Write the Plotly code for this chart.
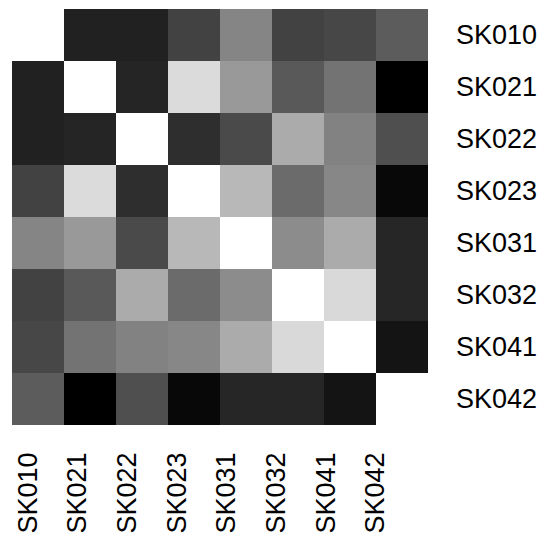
import plotly.graph_objects as go

labels = ["SK010", "SK021", "SK022", "SK023", "SK031", "SK032", "SK041", "SK042"]

# correlation-like values (0 = black, 1 = white); None = blank cell
row_SK010 = [None, 0.13, 0.13, 0.26, 0.52, 0.26, 0.28, 0.36]
row_SK021 = [0.13, 1.00, 0.145, 0.86, 0.60, 0.35, 0.45, 0.00]
row_SK022 = [0.13, 0.145, 1.00, 0.18, 0.29, 0.67, 0.51, 0.31]
row_SK023 = [0.26, 0.86, 0.18, 1.00, 0.72, 0.42, 0.53, 0.03]
row_SK031 = [0.52, 0.60, 0.29, 0.72, 1.00, 0.55, 0.67, 0.15]
row_SK032 = [0.26, 0.35, 0.67, 0.42, 0.55, 1.00, 0.85, 0.15]
row_SK041 = [0.28, 0.45, 0.51, 0.53, 0.67, 0.85, 1.00, 0.08]
row_SK042 = [0.36, 0.00, 0.31, 0.03, 0.15, 0.15, 0.08, None]

z = [row_SK010, row_SK021, row_SK022, row_SK023,
     row_SK031, row_SK032, row_SK041, row_SK042]

font_family = "Liberation Sans, Arial, sans-serif"

fig = go.Figure()
fig.add_trace(go.Heatmap(
    z=z, x=list(range(len(labels))), y=labels,
    colorscale=[[0, "#000000"], [1, "#ffffff"]],
    zmin=0, zmax=1, showscale=False, hoverinfo="skip",
))
# invisible trace to activate the label axis
fig.add_trace(go.Scatter(x=[0], y=[labels[0]], xaxis="x2", mode="markers",
                         marker=dict(opacity=0), hoverinfo="skip", showlegend=False))

fig.update_layout(
    width=542, height=535,
    margin=dict(l=4, r=122, t=1, b=118),
    paper_bgcolor="white", plot_bgcolor="white",
    showlegend=False,
    font=dict(family=font_family, size=27, color="#000000"),
    xaxis=dict(range=[-0.5, 7.5], showticklabels=False, showgrid=False,
               zeroline=False, ticks="", showline=False, automargin=False),
    xaxis2=dict(overlaying="x", anchor="y", side="bottom",
                range=[-0.323, 8.06], tickmode="array",
                tickvals=list(range(len(labels))), ticktext=labels,
                tickangle=-90, ticks="", showgrid=False, zeroline=False,
                showline=False, ticklabelstandoff=21, automargin=False,
                tickfont=dict(family=font_family, size=27, color="#000000")),
    yaxis=dict(autorange="reversed", side="right", showgrid=False,
               zeroline=False, ticks="", showline=False, automargin=False,
               ticklabelstandoff=27,
               tickfont=dict(family=font_family, size=27, color="#000000")),
)

fig.write_html("out.html")
